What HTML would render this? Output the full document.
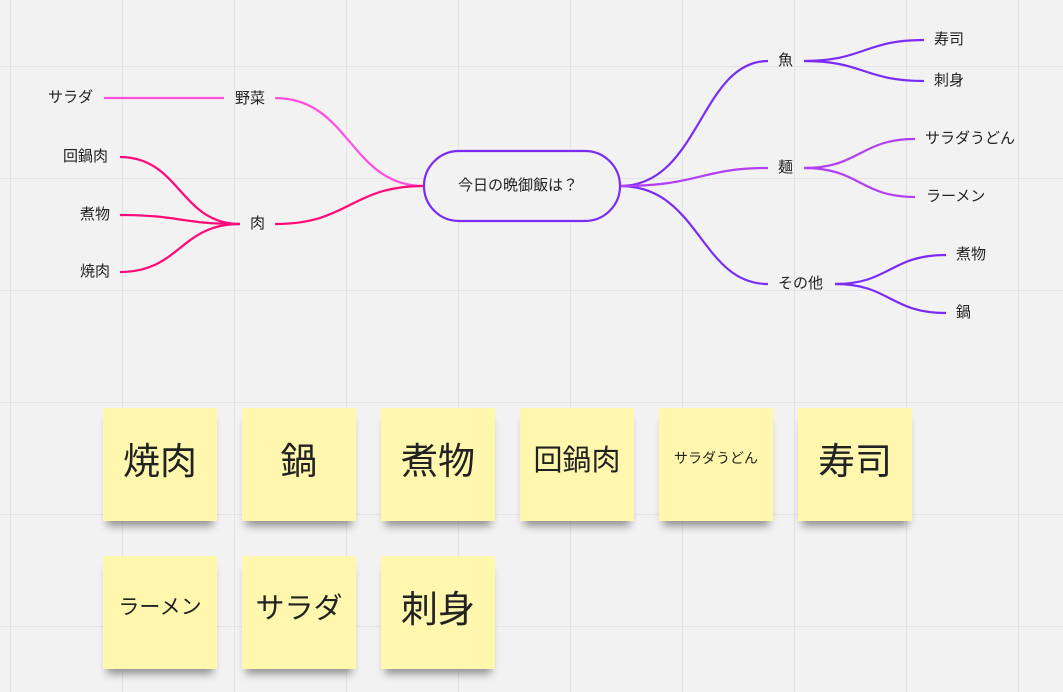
<!DOCTYPE html>
<html><head><meta charset="utf-8"><style>
body{margin:0;width:1063px;height:692px;overflow:hidden;background:#f2f2f2;font-family:"Liberation Sans","Noto Sans CJK JP",sans-serif;}
.grid{position:absolute;left:0;top:0;width:1063px;height:692px;
background-image:linear-gradient(to right,#e4e4e4 1px,transparent 1px),linear-gradient(to bottom,#e4e4e4 1px,transparent 1px);
background-size:112px 112px;background-position:10px 66px;}
.l{position:absolute;font-size:15px;color:#222;line-height:16px;white-space:nowrap;}
.s{position:absolute;width:114px;height:113px;background:#fff7ae;box-shadow:0 9px 8px -4px rgba(0,0,0,0.4);display:flex;align-items:center;justify-content:center;color:#222;padding-bottom:14px;box-sizing:border-box;white-space:nowrap;}
</style></head><body>
<div class="grid"></div>
<svg width="1063" height="692" style="position:absolute;left:0;top:0" fill="none" stroke-width="2.2">
<g stroke="#ff4fe0"><path d="M104 98 H224"/><path d="M275 98 C350 98 350 186 424 186"/></g>
<g stroke="#ff0a78"><path d="M275 224 C350 224 350 186 424 186"/>
<path d="M120 157 C180 157 180 224 240 224"/><path d="M120 215 C180 215 180 224 240 224"/><path d="M120 272 C180 272 180 224 240 224"/></g>
<g stroke="#7a2cf5"><path d="M620 186 C700 186 700 61 768 61"/><path d="M620 186 C700 186 700 284 768 284"/>
<path d="M804 61 C864 61 864 40 924 40"/><path d="M804 61 C864 61 864 81 924 81"/>
<path d="M835 284 C890 284 890 255 946 255"/><path d="M835 284 C890 284 890 313 946 313"/></g>
<g stroke="#b23ff5"><path d="M620 186 C700 186 700 168 768 168"/>
<path d="M804 168 C860 168 860 139 915 139"/><path d="M804 168 C860 168 860 197 915 197"/></g>
<rect x="424" y="151" width="196" height="70" rx="35" stroke="#7a2cf5" fill="#f2f2f2"/>
</svg>
<div class="l" style="left:458px;top:178px">今日の晩御飯は？</div>
<div class="l" style="left:48px;top:90px">サラダ</div>
<div class="l" style="left:235px;top:91px">野菜</div>
<div class="l" style="left:250px;top:216px">肉</div>
<div class="l" style="left:63px;top:149px">回鍋肉</div>
<div class="l" style="left:80px;top:207px">煮物</div>
<div class="l" style="left:80px;top:264px">焼肉</div>
<div class="l" style="left:778px;top:53px">魚</div>
<div class="l" style="left:778px;top:160px">麺</div>
<div class="l" style="left:778px;top:276px">その他</div>
<div class="l" style="left:934px;top:32px">寿司</div>
<div class="l" style="left:934px;top:73px">刺身</div>
<div class="l" style="left:925px;top:131px">サラダうどん</div>
<div class="l" style="left:926px;top:189px">ラーメン</div>
<div class="l" style="left:956px;top:247px">煮物</div>
<div class="l" style="left:956px;top:305px">鍋</div>
<div class="s" style="left:103px;top:408px;font-size:37px">焼肉</div>
<div class="s" style="left:242px;top:408px;font-size:37px">鍋</div>
<div class="s" style="left:381px;top:408px;font-size:37px">煮物</div>
<div class="s" style="left:520px;top:408px;font-size:29px">回鍋肉</div>
<div class="s" style="left:659px;top:408px;font-size:14px">サラダうどん</div>
<div class="s" style="left:798px;top:408px;font-size:37px">寿司</div>
<div class="s" style="left:103px;top:556px;font-size:21px">ラーメン</div>
<div class="s" style="left:242px;top:556px;font-size:29px">サラダ</div>
<div class="s" style="left:381px;top:556px;font-size:37px">刺身</div>
</body></html>
